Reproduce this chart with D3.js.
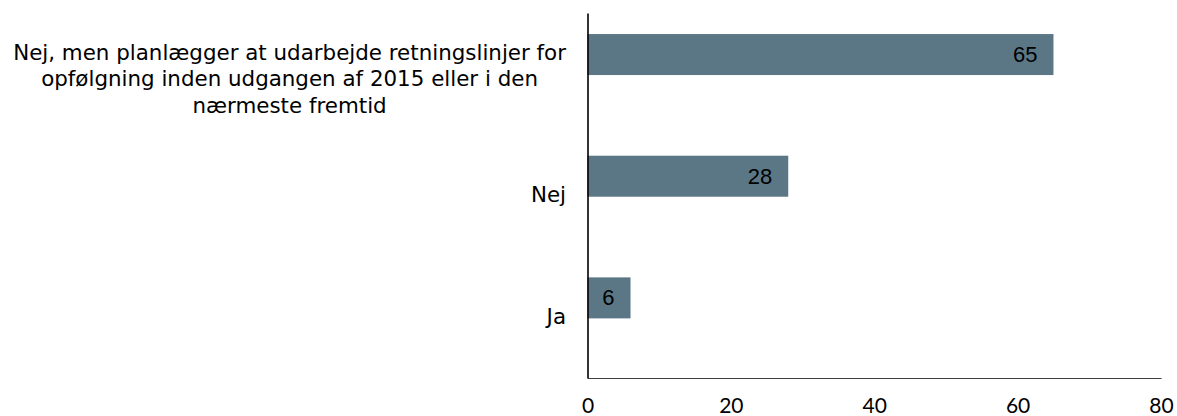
<!DOCTYPE html>
<html>
<head>
<meta charset="utf-8">
<script src="https://cdn.jsdelivr.net/npm/d3@7"></script>
<style>
  html, body { margin: 0; padding: 0; background: #fff; }
  svg { display: block; }
</style>
</head>
<body>
<svg id="chart" width="1177" height="416"></svg>
<script>
// Categories, top to bottom (line breaks mark how the long label wraps)
const categories = [
  "Nej, men planlægger at udarbejde retningslinjer for\nopfølgning inden udgangen af 2015 eller i den\nnærmeste fremtid",
  "Nej",
  "Ja"
];
const values = [65, 28, 6];
const xTicks = [0, 20, 40, 60, 80];

const svg = d3.select("#chart");
const plot = { left: 587.5, right: 1161, top: 13, bottom: 378 };

const x = d3.scaleLinear().domain([0, 80]).range([plot.left, plot.right]);
const y = d3.scaleBand().domain(categories).range([plot.top, plot.bottom]);
const bw = y.bandwidth();
const barOffset = bw * 0.173, barH = bw * 0.337;

const data = categories.map((c, i) => ({ cat: c, value: values[i] }));

// Bars
svg.append("g").selectAll("rect")
  .data(data)
  .join("rect")
  .attr("x", x(0))
  .attr("y", d => y(d.cat) + barOffset)
  .attr("width", d => x(d.value) - x(0))
  .attr("height", barH)
  .attr("fill", "#5b7786");

// Value labels inside bar ends
svg.append("g").selectAll("text")
  .data(data)
  .join("text")
  .attr("x", d => x(d.value) - 16)
  .attr("y", d => y(d.cat) + barOffset + barH / 2)
  .attr("text-anchor", "end")
  .attr("dominant-baseline", "central")
  .style("font-family", "'Liberation Sans', Arial, sans-serif")
  .style("font-size", "22px")
  .attr("fill", "#000")
  .text(d => d.value);

// Category labels: block right-aligned, lines centred within it
const labelRight = 566, lineH = 26.5;
const catG = svg.append("g")
  .style("font-family", "'DejaVu Sans', Verdana, sans-serif")
  .style("font-size", "21.4px")
  .attr("fill", "#000");
categories.forEach(c => {
  const lines = c.split("\n");
  const t = catG.append("text").attr("text-anchor", "middle");
  const cy = y(c) + bw / 2 + (lines.length > 1 ? 5 : -1);
  lines.forEach((ln, i) => {
    t.append("tspan")
      .attr("y", cy + (i - (lines.length - 1) / 2) * lineH)
      .attr("dominant-baseline", "central")
      .text(ln);
  });
  let maxW = 0;
  t.selectAll("tspan").each(function () { maxW = Math.max(maxW, this.getComputedTextLength()); });
  t.selectAll("tspan").attr("x", labelRight - maxW / 2);
});

// Axes
const xAxis = d3.axisBottom(x).tickValues(xTicks).tickSize(0).tickPadding(20);
const gx = svg.append("g").attr("transform", `translate(0,${plot.bottom})`).call(xAxis);
gx.select(".domain").attr("stroke", "#404040").attr("stroke-width", 1.2);
gx.selectAll("text")
  .style("font-family", "Lato, 'Open Sans', sans-serif")
  .style("font-size", "21px")
  .attr("fill", "#000");

const yAxis = d3.axisLeft(y).tickSize(0).tickFormat("");
const gy = svg.append("g").attr("transform", `translate(${plot.left},0)`).call(yAxis);
gy.select(".domain").attr("stroke", "#000").attr("stroke-width", 1.6);
</script>
</body>
</html>
